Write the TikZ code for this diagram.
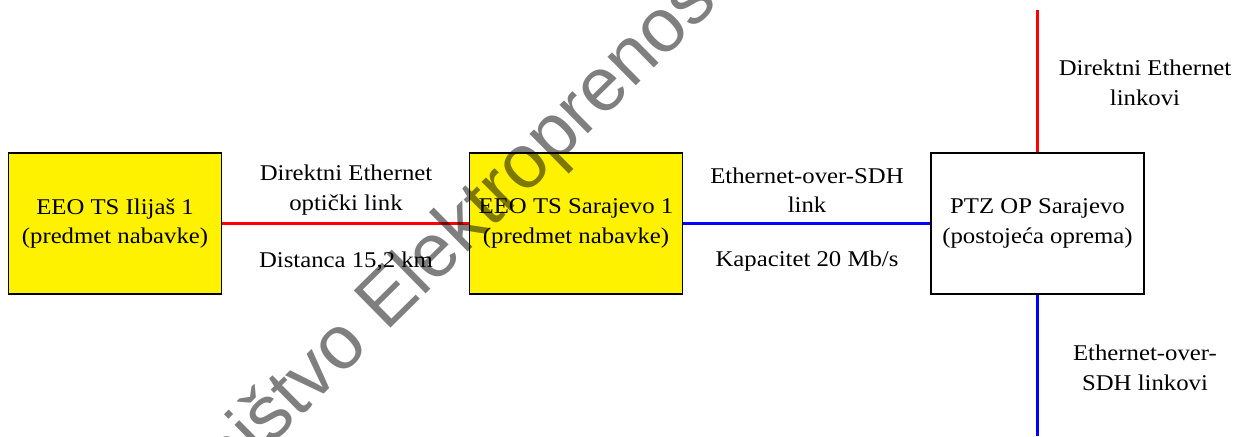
\documentclass[tikz,border=0pt]{standalone}
\usepackage{fontspec}
\setmainfont[FakeStretch=1.1]{Liberation Serif}
\newfontfamily\wmfont{Liberation Sans}
\begin{document}
\begin{tikzpicture}[x=1pt,y=-1pt,
  box/.style={draw=black,line width=1.8pt,minimum width=213pt,minimum height=141pt,inner sep=0pt,align=center,font=\fontsize{22.5}{29.5}\selectfont},
  ybox/.style={box,fill=yellow},
  wbox/.style={box,fill=white},
  lbl/.style={align=center,inner sep=0pt,font=\fontsize{22.5}{29.5}\selectfont},
  redlink/.style={draw=red,line width=2.6pt},
  bluelink/.style={draw=blue,line width=2.6pt},
  wm/.style={inner sep=0pt,rotate=44.6,text=black,text opacity=0.5,font=\wmfont\fontsize{76}{80}\selectfont}]
\useasboundingbox (0,0) rectangle (1238,436);
\clip (0,0) rectangle (1238,436);
\node[ybox] (a) at (115,223.5) {EEO TS Ilija\v{s} 1\\(predmet nabavke)};
\node[ybox] (b) at (576,223.5) {EEO TS Sarajevo 1\\(predmet nabavke)};
\node[wbox] (c) at (1037.5,223.5) {PTZ OP Sarajevo\\(postoje\'{c}a oprema)};
\coordinate (top) at (1037.5,10);
\coordinate (bot) at (1037.5,436);
\draw[redlink] (a.east) -- (b.west);
\draw[bluelink] (b.east) -- (c.west);
\draw[redlink] (c.north) -- (top);
\draw[bluelink] (c.south) -- (bot);
\node[lbl] (l1) at (346,190) {Direktni Ethernet\\opti\v{c}ki link};
\node[lbl] (l2) at (346,261) {Distanca 15,2 km};
\node[lbl] (l3) at (807,190) {Ethernet-over-SDH\\link};
\node[lbl] (l4) at (807,261) {Kapacitet 20 Mb/s};
\node[lbl] (l5) at (1145,83) {Direktni Ethernet\\linkovi};
\node[lbl] (l6) at (1145,368) {Ethernet-over-\\SDH linkovi};
\node[wm,anchor=base west] (wm2) at (386,333) {Elektroprenosa};
\node[wm,anchor=base east] (wm1) at (371,347.8) {Vlasni\v{s}tvo};
\end{tikzpicture}
\end{document}
